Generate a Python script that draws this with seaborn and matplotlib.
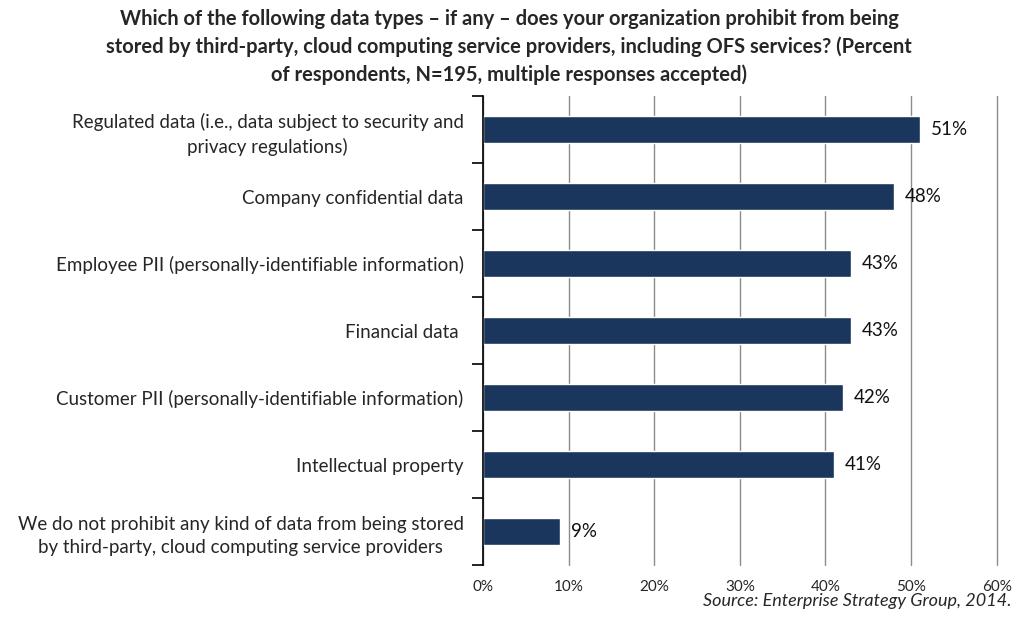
import matplotlib
matplotlib.use("Agg")
import matplotlib.pyplot as plt
import seaborn as sns
import pandas as pd
import numpy as np

categories = [
    "Regulated data (i.e., data subject to security and\nprivacy regulations)",
    "Company confidential data",
    "Employee PII (personally-identifiable information)",
    "Financial data ",
    "Customer PII (personally-identifiable information)",
    "Intellectual property",
    "We do not prohibit any kind of data from being stored\nby third-party, cloud computing service providers",
]
values = [51, 48, 43, 43, 42, 41, 9]
xticks = [0, 10, 20, 30, 40, 50, 60]
title = ("Which of the following data types \u2013 if any \u2013 does your organization prohibit from being\n"
         "stored by third-party, cloud computing service providers, including OFS services? (Percent\n"
         "of respondents, N=195, multiple responses accepted)")
source = "Source: Enterprise Strategy Group, 2014."

sns.set_style("white")
plt.rcParams['font.family'] = ['Lato', 'DejaVu Sans']

df = pd.DataFrame({"cat": categories, "val": values})

fig = plt.figure(figsize=(10.18, 6.25), dpi=100)
ax = fig.add_axes([0.4745, 0.096, 0.5045, 0.75])

sns.barplot(data=df, x="val", y="cat", color="#1B365D", width=0.41,
            saturation=1, ax=ax, orient="h")

ax.set_xlim(0, 60)
ax.set_ylim(len(categories) - 0.5, -0.5)
ax.set_xticks(xticks)
ax.set_xticklabels([f"{t}%" for t in xticks], fontsize=11)
ax.xaxis.grid(True, color="#8c8c8c", linewidth=1)
for gl in ax.get_xgridlines():
    gl.set_clip_on(False)
ax.set_axisbelow(True)
ax.tick_params(axis="x", length=0, pad=11)
ax.set_xlabel("")
ax.set_ylabel("")

ax.tick_params(axis="y", which="major", length=0, pad=14, labelsize=13.5)
for lab in ax.get_yticklabels():
    lab.set_multialignment("center")
    lab.set_linespacing(1.45)
ax.set_yticks(np.arange(-0.5, len(categories), 1), minor=True)
ax.tick_params(axis="y", which="minor", left=True, length=8, width=1.2,
               color="black", direction="out")

for s in ["top", "right", "bottom"]:
    ax.spines[s].set_visible(False)
ax.spines["left"].set_color("black")
ax.spines["left"].set_linewidth(1.2)

for i, v in enumerate(values):
    ax.text(v + 1.3, i, f"{v}%", va="center", ha="left", fontsize=13.5, color="#111111")

fig.text(0.5, 0.985, title, ha="center", va="top", fontsize=14.5, fontweight="bold",
         linespacing=1.45)
fig.text(0.994, 0.026, source, ha="right", va="bottom", fontsize=13, style="italic")

fig.savefig("out.png", dpi=100)
